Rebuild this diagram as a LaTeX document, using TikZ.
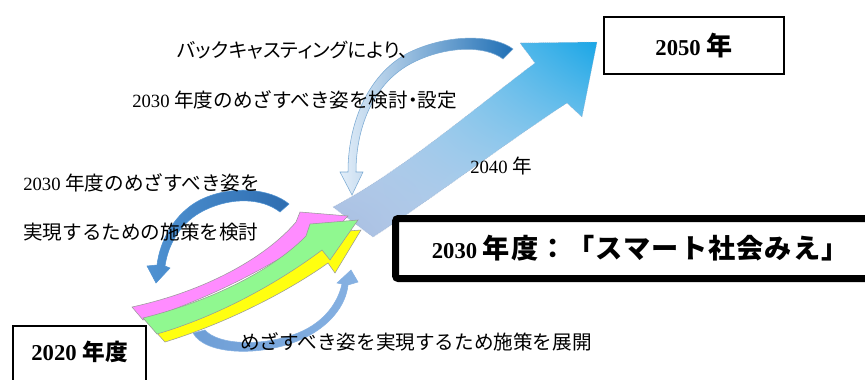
\documentclass[tikz,border=0pt]{standalone}
\usepackage{fontspec}
\usetikzlibrary{shadings}
\setmainfont{Liberation Serif}
\newfontfamily\jp{Noto Sans CJK JP}[Scale=1.05]
\newfontfamily\jpp{Noto Sans CJK JP}[Scale=1.05,RawFeature=+palt]
\newfontfamily\jpbig{Noto Sans CJK JP}[Scale=1.2,LetterSpace=4]
\newfontfamily\jpmid{Noto Sans CJK JP}[Scale=1.15]
\newfontfamily\jpsm{Noto Sans CJK JP}[Scale=1.0]
\definecolor{pinkA}{HTML}{FF8CFF}
\definecolor{greenA}{HTML}{90F890}
\definecolor{yellowA}{HTML}{FFFF10}
\definecolor{bigA}{HTML}{A6BDE1}
\definecolor{bigB}{HTML}{CFE0F3}
\definecolor{bigC}{HTML}{1AA6E6}
\definecolor{aOne}{HTML}{1F6FB5}
\definecolor{aOneL}{HTML}{E3EEF9}
\definecolor{aTwo}{HTML}{2E6DB0}
\definecolor{aTwoL}{HTML}{4F92D2}
\definecolor{aThrA}{HTML}{6E9ED6}
\definecolor{aThrB}{HTML}{B5CFEC}
\definecolor{aThrC}{HTML}{86B1E2}
\tikzset{
  lab/.style={inner sep=0pt, anchor=west, font=\fontsize{14}{16}\selectfont},
  thinbox/.style={draw=black, line width=1.1pt, fill=white, inner sep=0pt},
  thickbox/.style={draw=black, line width=5.25pt, fill=white, rounded corners=2pt, inner sep=0pt},
  boldtxt/.style={font=\fontsize{17}{20}\selectfont\bfseries},
  colarrow/.style={draw=black!40, line width=0.4pt},
  curvarrow/.style={line width=0.4pt}
}
\begin{document}
\begin{tikzpicture}[x=0.75pt,y=-0.75pt]
\fill[white] (0,0) rectangle (865,379);
\useasboundingbox (0,0) rectangle (865,379);

% big arrow 2020 -> 2050
\shadedraw[lower left=bigA, upper right=bigC, upper left=bigB, lower right=bigB,
  draw=bigA!80!gray, densely dotted, line width=0.4pt]
  (333,207) .. controls (400,172) and (470,112) .. (535,63) -- (520,43) -- (597,42)
  -- (582,117) -- (567,103) .. controls (510,140) and (430,200) .. (373,237) -- cycle;

% boxes
\node[thickbox, boldtxt, minimum width=367pt, minimum height=45pt] (b2030) at (640.25,248.5)
  {2030 {\jpbig 年度：「スマート社会みえ」}};
\node[thinbox, boldtxt, minimum width=135pt, minimum height=42.75pt] (b2050) at (694,45.5)
  {2050 {\jpmid 年}};
\node[thinbox, minimum width=99.75pt, minimum height=55.5pt] (b2020) at (79.5,363) {};
\node[boldtxt, inner sep=0pt] (t2020) at (79.5,352) {2020 {\jpsm 年度}};

% lower curved arrow (behind colored arrows)
\shadedraw[curvarrow, left color=aThrA, middle color=aThrB, right color=aThrC, draw=aThrC]
  (193,333) .. controls (205,355) and (260,357) .. (300,340) .. controls (330,327) and (346,305) .. (348,285)
  -- (358,282) -- (351,270) -- (337,283) -- (342,284)
  .. controls (338,302) and (325,322) .. (298,333) .. controls (262,347) and (218,345) .. (205,330) -- cycle;

% colored arrows
\filldraw[colarrow, fill=pinkA]
  (132,307) .. controls (210,290) and (268,255) .. (296,222) -- (300,212) -- (348,216)
  -- (320,245) -- (312,238) .. controls (265,270) and (205,300) .. (143,320) -- cycle;
\filldraw[colarrow, fill=yellowA]
  (155,331) .. controls (225,312) and (285,282) .. (318,244) -- (322,233) -- (361,230)
  -- (335,273) -- (328,263) .. controls (290,290) and (230,322) .. (165,342) -- cycle;
\filldraw[colarrow, fill=greenA]
  (143,318) .. controls (215,300) and (275,268) .. (306,236) -- (310,224) -- (358,220)
  -- (330,260) -- (322,250) .. controls (282,280) and (222,315) .. (157,334) -- cycle;

% upper curved arrow (backcasting)
\shadedraw[curvarrow, left color=aOneL, right color=aOne, draw=aOne!60!white]
  (513,49) .. controls (495,35) and (450,33) .. (410,52) .. controls (370,72) and (348,120) .. (348,172)
  -- (340,172) -- (352,195) -- (363,172) -- (356,172)
  .. controls (356,125) and (375,82) .. (412,63) .. controls (445,46) and (485,45) .. (503,59) -- cycle;

% left curved arrow
\shadedraw[curvarrow, left color=aTwoL, right color=aTwo, draw=aTwoL]
  (289,204) .. controls (270,188) and (230,185) .. (200,200) .. controls (175,213) and (160,240) .. (157,265)
  -- (147,266) -- (156,283) -- (170,268) -- (165,266)
  .. controls (168,245) and (180,222) .. (205,210) .. controls (232,197) and (262,198) .. (280,212) -- cycle;

% labels
\node[lab] (t1) at (177,50) {\jpp バックキャスティングにより、};
\node[lab] (t2) at (132,100) {2030 {\jp 年度のめざすべき姿を検討}{\jpp ・}{\jp 設定}};
\node[lab] (t3) at (470,166) {2040 {\jp 年}};
\node[lab] (t4) at (23,183) {2030 {\jp 年度のめざすべき姿を}};
\node[lab] (t5) at (23,232) {\jp 実現するための施策を検討};
\node[lab] (t6) at (240,342) {\jp めざすべき姿を実現するため施策を展開};
\end{tikzpicture}
\end{document}
